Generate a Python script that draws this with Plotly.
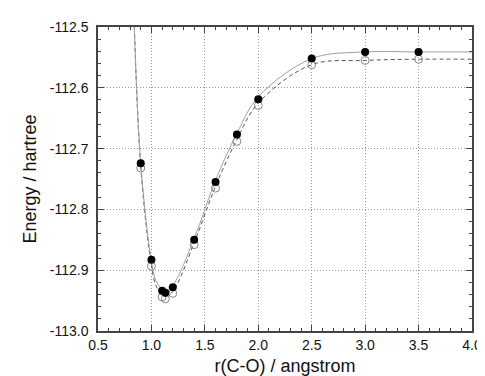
import plotly.graph_objects as go

# Data points (filled = set A, open = set B)
r_pts = [0.9, 1.0, 1.1, 1.13, 1.2, 1.4, 1.6, 1.8, 2.0, 2.5, 3.0, 3.5]
e_filled = [-112.724, -112.883, -112.934, -112.937, -112.928, -112.850,
            -112.755, -112.677, -112.619, -112.552, -112.541, -112.541]
e_open = [-112.732, -112.893, -112.944, -112.947, -112.938, -112.858,
          -112.765, -112.688, -112.629, -112.562, -112.555, -112.553]

# Fitted curves
fit_r = [0.84, 0.9, 1.0, 1.05, 1.13, 1.2, 1.4, 1.6, 1.8, 2.0, 2.5, 3.0, 3.5, 4.0]
fit_a = [-112.50, -112.724, -112.885, -112.920, -112.934, -112.925, -112.848,
         -112.752, -112.675, -112.615, -112.552, -112.541, -112.541, -112.541]
fit_b = [-112.50, -112.730, -112.892, -112.928, -112.943, -112.935, -112.855,
         -112.762, -112.685, -112.625, -112.562, -112.555, -112.553, -112.553]

x_ticks = [0.5, 1.0, 1.5, 2.0, 2.5, 3.0, 3.5, 4.0]
y_ticks = [-113.0, -112.9, -112.8, -112.7, -112.6, -112.5]

FONT = "Liberation Sans, Arial"

fig = go.Figure()
fig.add_trace(go.Scatter(x=fit_r, y=fit_b, mode="lines", line_shape="spline",
                         line=dict(color="#555555", width=1, dash="4px,3px"),
                         hoverinfo="skip", showlegend=False))
fig.add_trace(go.Scatter(x=fit_r, y=fit_a, mode="lines", line_shape="spline",
                         line=dict(color="#a0a0a0", width=1),
                         hoverinfo="skip", showlegend=False))
fig.add_trace(go.Scatter(x=r_pts, y=e_open, mode="markers",
                         marker=dict(symbol="circle-open", size=8, color="#888888",
                                     line=dict(width=1, color="#888888")),
                         showlegend=False))
fig.add_trace(go.Scatter(x=r_pts, y=e_filled, mode="markers",
                         marker=dict(symbol="circle", size=8, color="black"),
                         showlegend=False))

axis_common = dict(
    showline=True, linecolor="#444444", linewidth=1.5, mirror="allticks",
    ticks="inside", ticklen=6, tickcolor="#444444",
    showgrid=True, gridcolor="#9a9a9a", griddash="1px,2px", gridwidth=1,
    zeroline=False,
    tickfont=dict(family=FONT, size=14, color="#111111"),
)

fig.update_xaxes(range=[0.5, 4.0], tickmode="array", tickvals=x_ticks,
                 ticktext=[f"{v:.1f}" for v in x_ticks],
                 minor=dict(tickmode="linear", tick0=0.5, dtick=0.1, ticks="inside",
                            ticklen=3, tickcolor="#444444", showgrid=False),
                 title=dict(text="r(C-O) / angstrom", standoff=8,
                            font=dict(family=FONT, size=18, color="#111111")),
                 **axis_common)
fig.update_yaxes(range=[-113.0, -112.5], tickmode="array", tickvals=y_ticks,
                 ticktext=[f"{v:.1f}" for v in y_ticks],
                 ticklabelstandoff=5,
                 minor=dict(tickmode="linear", tick0=-113.0, dtick=0.02, ticks="inside",
                            ticklen=3, tickcolor="#444444", showgrid=False),
                 title=dict(text="Energy / hartree", standoff=8,
                            font=dict(family=FONT, size=18, color="#111111")),
                 **axis_common)

fig.update_layout(width=485, height=376,
                  margin=dict(l=90, r=11, t=18, b=52),
                  paper_bgcolor="white", plot_bgcolor="white",
                  showlegend=False)

fig.write_html("out.html")
